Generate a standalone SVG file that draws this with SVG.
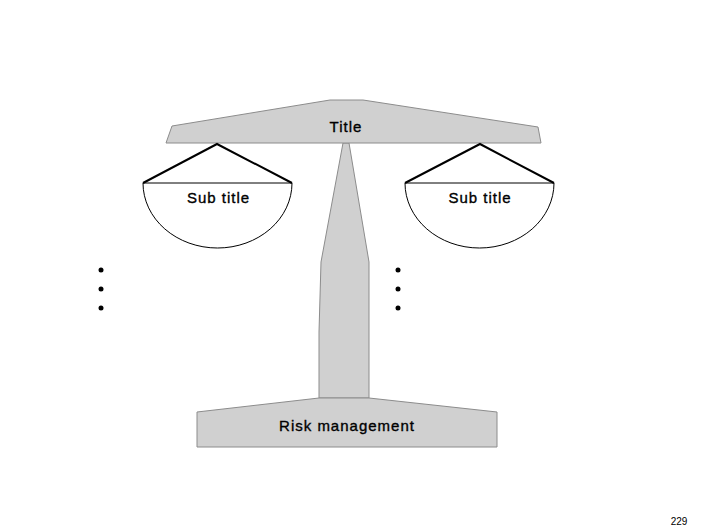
<svg xmlns="http://www.w3.org/2000/svg" width="706" height="529" viewBox="0 0 706 529">
<style>
.shape{fill:#d0d0d0;stroke:#8c8c8c;stroke-width:1}
.lbl{font-family:"Liberation Sans",Arial,sans-serif;font-size:15px;letter-spacing:1px;fill:#000;stroke:#000;stroke-width:0.35;text-anchor:middle}
.pan{fill:#fff;stroke:#000;stroke-width:1}
.rope{stroke:#000;stroke-width:2;fill:none}
.dot{fill:#000}
</style>
<rect width="706" height="529" fill="#fff"/>
<g id="stem"><polygon class="shape" points="343,143 349,143 369,262 369,398 319,398 319,332 321,262"/></g>
<g id="base">
<polygon class="shape" points="319,398 369,398 497,412 497,447 197,447 197,412"/>
<text class="lbl" x="347" y="431">Risk management</text>
</g>
<g id="beam">
<polygon class="shape" points="166,143 172,126 330,100 363,100 538,127 541,143"/>
<text class="lbl" x="346" y="132">Title</text>
</g>
<g id="pan-left">
<path class="pan" d="M143,183 A74.5,65 0 0 0 292,183 Z"/>
<polyline class="rope" points="143,183 217,144 292,183"/>
<text class="lbl" x="218.5" y="203">Sub title</text>
</g>
<g id="pan-right">
<path class="pan" d="M405,183 A74.5,65 0 0 0 554,183 Z"/>
<polyline class="rope" points="405,183 480,144 554,183"/>
<text class="lbl" x="480" y="203">Sub title</text>
</g>
<g id="dots-left">
<circle class="dot" cx="101" cy="270" r="2.5"/>
<circle class="dot" cx="101" cy="289" r="2.5"/>
<circle class="dot" cx="101" cy="308" r="2.5"/>
</g>
<g id="dots-right">
<circle class="dot" cx="398" cy="270" r="2.5"/>
<circle class="dot" cx="398" cy="289" r="2.5"/>
<circle class="dot" cx="398" cy="308" r="2.5"/>
</g>
<text x="679" y="525" style="font-family:'Liberation Sans',Arial,sans-serif;font-size:10px;fill:#000;text-anchor:middle">229</text>
</svg>
